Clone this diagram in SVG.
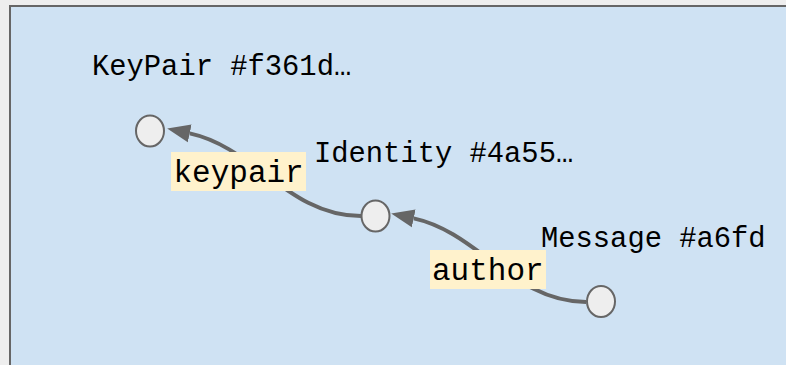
<svg xmlns="http://www.w3.org/2000/svg" width="786" height="365" viewBox="0 0 786 365">
  <style>
    .title { font-family: "Liberation Mono", "DejaVu Sans Mono", monospace; font-size: 28.8px; fill: #000; }
    .lbl { font-family: "Liberation Mono", "DejaVu Sans Mono", monospace; font-size: 31px; fill: #000; }
    .lblbox { fill: #fff2cc; }
    .node { fill: #eeeeee; stroke: #666666; stroke-width: 2; }
    .edge { fill: none; stroke: #666666; stroke-width: 4; marker-end: url(#arrow); }
  </style>
  <defs>
    <marker id="arrow" markerUnits="userSpaceOnUse" markerWidth="24" markerHeight="20" viewBox="0 -10 24 20" refX="0" refY="0" orient="auto">
      <path d="M0,-9 L23,0 L0,9 Z" fill="#666666"/>
    </marker>
  </defs>

  <!-- page and panel -->
  <rect x="0" y="0" width="786" height="365" fill="#eeeeee"/>
  <rect x="10" y="6" width="800" height="400" fill="#cfe2f3" stroke="#666666" stroke-width="2"/>

  <!-- connectors -->
  <g id="edges">
    <g id="edge-keypair">
      <path class="edge" d="M361,216 C289,216 254.3,147.2 189.7,133.4"/>
      <rect class="lblbox" x="171" y="152" width="135" height="39"/>
      <text class="lbl" x="173.5" y="182">keypair</text>
    </g>
    <g id="edge-author">
      <path class="edge" d="M586,302 C514,302 478.5,232.3 413.7,218.4"/>
      <rect class="lblbox" x="430" y="250" width="116" height="39"/>
      <text class="lbl" x="432" y="280">author</text>
    </g>
  </g>

  <!-- nodes -->
  <g id="node-keypair">
    <ellipse class="node" cx="150" cy="131" rx="14" ry="15.5"/>
    <text class="title" x="92" y="75">KeyPair #f361d…</text>
  </g>
  <g id="node-identity">
    <ellipse class="node" cx="375.5" cy="216" rx="14" ry="15.5"/>
    <text class="title" x="314" y="162">Identity #4a55…</text>
  </g>
  <g id="node-message">
    <ellipse class="node" cx="601" cy="301.5" rx="14" ry="15.5"/>
    <text class="title" x="541" y="247">Message #a6fd</text>
  </g>
</svg>
